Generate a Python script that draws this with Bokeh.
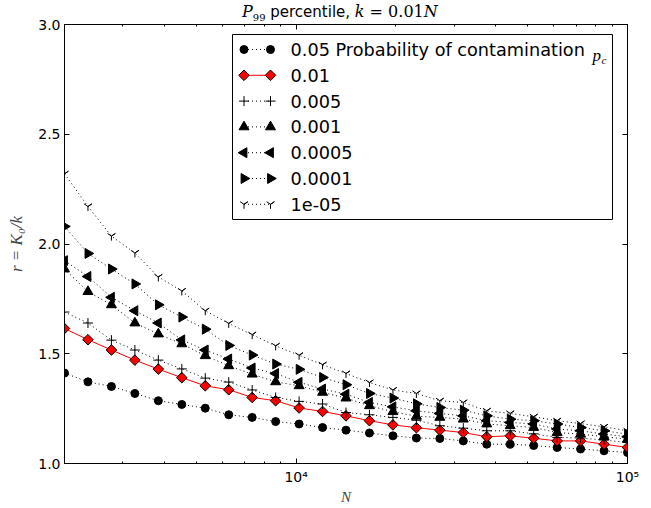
import numpy as np
from bokeh.plotting import figure
from bokeh.layouts import column
from bokeh.models import (FixedTicker, LogAxis, LinearAxis, Label, Range1d, LinearScale, Div,
                          CustomJSTickFormatter, PrintfTickFormatter)
from bokeh.embed import file_html
from bokeh.resources import INLINE

# ---- data ----
N = [2000, 2354, 2771, 3262, 3839, 4519, 5319, 6261, 7369, 8674, 10210, 12017, 14142,
     16646, 19593, 23062, 27145, 31951, 37607, 44265, 52102, 61326, 72183, 84963, 100000]

r_p05 = [1.412, 1.372, 1.351, 1.319, 1.286, 1.269, 1.252, 1.222, 1.210, 1.191, 1.180, 1.164, 1.152,
         1.139, 1.126, 1.116, 1.114, 1.103, 1.088, 1.088, 1.082, 1.073, 1.066, 1.058, 1.050]
r_p01 = [1.615, 1.564, 1.517, 1.471, 1.430, 1.391, 1.354, 1.336, 1.301, 1.286, 1.253, 1.237, 1.217,
         1.195, 1.176, 1.163, 1.152, 1.141, 1.122, 1.126, 1.115, 1.103, 1.103, 1.088, 1.073]
r_p005 = [1.690, 1.640, 1.562, 1.517, 1.471, 1.431, 1.389, 1.371, 1.335, 1.301, 1.283, 1.271, 1.232,
          1.222, 1.210, 1.197, 1.172, 1.161, 1.149, 1.149, 1.135, 1.119, 1.116, 1.107, 1.096]
r_p001 = [1.886, 1.783, 1.723, 1.640, 1.590, 1.545, 1.491, 1.445, 1.407, 1.372, 1.354, 1.324, 1.298,
          1.263, 1.236, 1.215, 1.210, 1.202, 1.180, 1.172, 1.164, 1.141, 1.134, 1.122, 1.111]
r_p0005 = [1.924, 1.852, 1.757, 1.696, 1.640, 1.563, 1.517, 1.476, 1.435, 1.410, 1.370, 1.339, 1.316,
           1.278, 1.258, 1.240, 1.228, 1.217, 1.195, 1.187, 1.180, 1.157, 1.149, 1.134, 1.122]
r_p0001 = [2.080, 1.957, 1.886, 1.818, 1.723, 1.667, 1.612, 1.538, 1.494, 1.453, 1.429, 1.392, 1.359,
           1.319, 1.298, 1.272, 1.255, 1.243, 1.217, 1.202, 1.195, 1.180, 1.164, 1.149, 1.134]
r_p00001 = [2.320, 2.171, 2.036, 1.959, 1.850, 1.786, 1.696, 1.638, 1.587, 1.536, 1.493, 1.450, 1.410,
            1.369, 1.335, 1.319, 1.286, 1.278, 1.240, 1.228, 1.213, 1.195, 1.182, 1.167, 1.149]

labels = ["0.05 Probability of contamination", "0.01", "0.005", "0.001", "0.0005", "0.0001", "1e-05"]
y_ticks = [1.0, 1.5, 2.0, 2.5, 3.0]
x_major = [10000, 100000]
x_minor = [3000, 4000, 5000, 6000, 7000, 8000, 9000,
           20000, 30000, 40000, 50000, 60000, 70000, 80000, 90000]

# ---- title (HTML, mixed fonts like the mathtext original) ----
serif = "font-family:'DejaVu Serif';"
title_html = (
    '<div style="padding-left:242px;padding-top:4px;line-height:16px;white-space:nowrap;color:black;">'
    f'<span style="{serif}font-style:italic;font-size:16px;">P</span>'
    f'<span style="{serif}font-size:10px;position:relative;top:4px;">99</span>'
    '<span style="font-family:\'DejaVu Sans\';font-size:15px;"> percentile, </span>'
    f'<span style="{serif}font-style:italic;font-size:16px;">k</span>'
    f'<span style="{serif}font-size:16px;"> = 0.01</span>'
    f'<span style="{serif}font-style:italic;font-size:16px;">N</span>'
    '</div>'
)
title = Div(text=title_html, width=647, height=18, margin=0, styles={"overflow": "visible"})

# ---- figure ----
FW, FH = 563, 439
p = figure(frame_width=FW, frame_height=FH, x_axis_type="log", x_range=(2000, 100000), y_range=(1.0, 3.0),
           output_backend="svg", toolbar_location=None, title=None,
           min_border_left=64, min_border_right=20, min_border_top=6, min_border_bottom=44)
p.background_fill_color = "white"
p.border_fill_color = "white"
p.border_fill_alpha = 0
p.outline_line_color = "black"
p.outline_line_width = 1
p.xgrid.grid_line_color = None
p.ygrid.grid_line_color = None

# pixel-based helper coordinate system for the legend box (frame pixels)
p.extra_x_ranges = {"px": Range1d(0, FW)}
p.extra_x_scales = {"px": LinearScale()}
p.extra_y_ranges = {"py": Range1d(0, FH)}

sup_code = """
const s = {'0':'\u2070','1':'\u00b9','2':'\u00b2','3':'\u00b3','4':'\u2074','5':'\u2075','6':'\u2076','7':'\u2077','8':'\u2078','9':'\u2079','-':'\u207b'};
const e = Math.round(Math.log10(tick));
return '10' + String(e).split('').map(c => s[c]).join('');
"""

def style_axis(ax):
    ax.axis_line_color = "black"
    ax.major_tick_in = 5
    ax.major_tick_out = 0
    ax.minor_tick_in = 2
    ax.minor_tick_out = 0
    ax.major_tick_line_color = "black"
    ax.minor_tick_line_color = "black"
    ax.major_label_text_font = "DejaVu Sans"
    ax.major_label_text_font_size = "14px"
    ax.major_label_text_color = "black"

xa = p.xaxis[0]
xa.ticker = FixedTicker(ticks=x_major, minor_ticks=x_minor)
xa.formatter = CustomJSTickFormatter(code=sup_code)
style_axis(xa)
xa.major_label_standoff = 5
xa.axis_label = "N"
xa.axis_label_text_font = "Liberation Serif"
xa.axis_label_text_font_style = "italic"
xa.axis_label_text_font_size = "15px"
xa.axis_label_standoff = 1

ya = p.yaxis[0]
ya.ticker = FixedTicker(ticks=y_ticks)
ya.formatter = PrintfTickFormatter(format="%.1f")
style_axis(ya)
ya.minor_tick_line_color = None
ya.major_label_standoff = 4
ya.axis_label = "r = K\u2080/k"
ya.axis_label_text_font = "Liberation Serif"
ya.axis_label_text_font_style = "italic"
ya.axis_label_text_font_size = "17px"
ya.axis_label_standoff = 9

top = LogAxis(ticker=FixedTicker(ticks=x_major, minor_ticks=x_minor),
              formatter=CustomJSTickFormatter(code="return '';"))
style_axis(top)
top.major_label_standoff = 0
top.major_label_text_font_size = "1px"
p.add_layout(top, "above")

right = LinearAxis(ticker=FixedTicker(ticks=y_ticks), formatter=CustomJSTickFormatter(code="return '';"))
style_axis(right)
right.minor_tick_line_color = None
right.major_label_standoff = 0
right.major_label_text_font_size = "1px"
p.add_layout(right, "right")

# ---- series ----
series = [
    (labels[0], r_p05, dict(marker="circle", size=8, fill_color="black", line_color="black"), "black", "1 3"),
    (labels[1], r_p01, dict(marker="square", size=7.5, angle=np.pi / 4, fill_color="red", line_color="black"), "red", "solid"),
    (labels[2], r_p005, dict(marker="cross", size=10, fill_color=None, line_color="black"), "black", "1 3"),
    (labels[3], r_p001, dict(marker="triangle", size=10, fill_color="black", line_color="black"), "black", "1 3"),
    (labels[4], r_p0005, dict(marker="triangle", size=10, angle=np.pi / 2, fill_color="black", line_color="black"), "black", "1 3"),
    (labels[5], r_p0001, dict(marker="triangle", size=10, angle=-np.pi / 2, fill_color="black", line_color="black"), "black", "1 3"),
    (labels[6], r_p00001, dict(marker="y", size=9, fill_color=None, line_color="black"), "black", "1 3"),
]

for lab, vals, mk, lc, dash in series:
    p.line(N, vals, line_color=lc, line_width=1, line_dash=dash)
    p.scatter(N, vals, line_width=1, **mk)

# ---- legend (matplotlib style: marker-line-marker) ----
LX0, LX1, LY0, LY1 = 168, 548, 244, 429      # legend box in frame pixels
p.quad(left=[LX0], right=[LX1], bottom=[LY0], top=[LY1], fill_color="white", line_color="black",
       line_width=1, x_range_name="px", y_range_name="py")
for i, (lab, vals, mk, lc, dash) in enumerate(series):
    yr = 414 - 25.8 * i
    gx = [179.5, 206]
    p.line(gx, [yr, yr], line_color=lc, line_width=1, line_dash=dash, x_range_name="px", y_range_name="py")
    p.scatter(gx, [yr, yr], line_width=1, x_range_name="px", y_range_name="py", **mk)
    p.add_layout(Label(x=226, y=yr, x_units="screen", y_units="screen", text=lab,
                       text_font="DejaVu Sans", text_font_size="17.7px", text_color="black",
                       text_baseline="middle", text_align="left"))

p.add_layout(Label(x=528, y=408, x_units="screen", y_units="screen", text="p",
                   text_font="Liberation Serif", text_font_style="italic", text_font_size="17px",
                   text_color="black", text_baseline="alphabetic"))
p.add_layout(Label(x=537, y=404, x_units="screen", y_units="screen", text="c",
                   text_font="Liberation Serif", text_font_style="italic", text_font_size="11px",
                   text_color="black", text_baseline="alphabetic"))

layout = column(title, p, spacing=0)
open("out.html", "w").write(file_html(layout, INLINE))
